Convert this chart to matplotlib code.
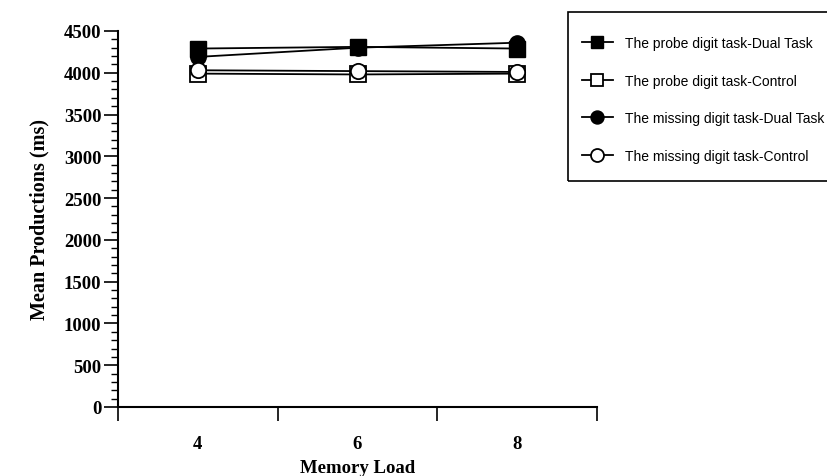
import numpy as np
import matplotlib
matplotlib.use('Agg')
import matplotlib.pyplot as plt
from matplotlib.patches import Rectangle
from matplotlib.ticker import FixedLocator, MultipleLocator, NullFormatter

# memory load categories
loads = [4, 6, 8]
xlabels = ['4', '6', '8']

# mean productions (ms)
probe_dual = [4290, 4310, 4290]
probe_ctrl = [3990, 3980, 3990]
missing_dual = [4190, 4300, 4360]
missing_ctrl = [4030, 4020, 4010]

serif = ['Liberation Serif', 'DejaVu Serif']
sans = ['Liberation Sans', 'DejaVu Sans']

W, H = 827, 477
fig = plt.figure(figsize=(W / 100, H / 100), dpi=100)
ax = fig.add_axes([118 / W, 1 - 408 / H, (597 - 118) / W, (408 - 32) / H])

ms = 11
ax.plot(loads, probe_dual, color='black', lw=1.3, marker='s', ms=ms,
        mfc='black', mec='black', label='The probe digit task-Dual Task', zorder=3)
ax.plot(loads, probe_ctrl, color='black', lw=1.3, marker='s', ms=ms,
        mfc='white', mec='black', mew=1.3, label='The probe digit task-Control', zorder=3)
ax.plot(loads, missing_dual, color='black', lw=1.3, marker='o', ms=ms,
        mfc='black', mec='black', label='The missing digit task-Dual Task', zorder=3)
ax.plot(loads, missing_ctrl, color='black', lw=1.3, marker='o', ms=ms,
        mfc='white', mec='black', mew=1.3, label='The missing digit task-Control', zorder=3)

ax.set_xlim(3, 9)
ax.set_ylim(0, 4500)

# x: ticks between categories, labels centred on categories
ax.xaxis.set_major_locator(FixedLocator([3, 5, 7, 9]))
ax.xaxis.set_major_formatter(NullFormatter())
ax.xaxis.set_minor_locator(FixedLocator(loads))
ax.set_xticklabels(xlabels, minor=True)
ax.tick_params(axis='x', which='major', length=10, width=1.2, direction='out')
ax.tick_params(axis='x', which='minor', length=0, pad=20)

ax.yaxis.set_major_locator(MultipleLocator(500))
ax.yaxis.set_minor_locator(MultipleLocator(100))
ax.tick_params(axis='y', which='major', length=10, width=1.2, direction='out', pad=2)
ax.tick_params(axis='y', which='minor', length=5, width=1.0, direction='out')

for lab in ax.get_xticklabels(minor=True) + ax.get_yticklabels():
    lab.set_family(serif)
    lab.set_fontweight('bold')
    lab.set_fontsize(13.5)

for s in ['top', 'right']:
    ax.spines[s].set_visible(False)
for s in ['left', 'bottom']:
    ax.spines[s].set_linewidth(1.5)

ax.set_xlabel('Memory Load', family=serif, fontweight='bold', fontsize=13.5, labelpad=5)
ax.set_ylabel('Mean Productions (ms)', family=serif, fontweight='bold', fontsize=14.5, labelpad=10)

# legend frame, running off the right edge as in the original
fig.patches.append(Rectangle((568 / W, 1 - 182 / H), 280 / W, (182 - 13) / H,
                             transform=fig.transFigure, fill=False,
                             edgecolor='black', linewidth=1.2))
leg = ax.legend(loc='upper left', bbox_to_anchor=(582 / W, 1 - 37 / H),
                bbox_transform=fig.transFigure, frameon=False,
                prop={'family': sans, 'size': 10},
                handlelength=2.2, handletextpad=0.9, labelspacing=1.7,
                borderpad=0, borderaxespad=0, markerscale=0.85)

fig.savefig('out.png', dpi=100)
